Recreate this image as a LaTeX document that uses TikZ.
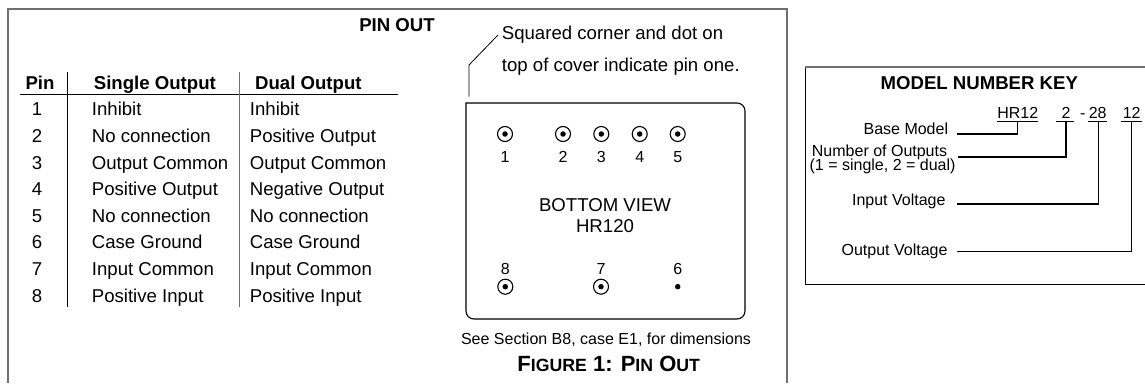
\documentclass[tikz,border=0pt]{standalone}
\usepackage{fontspec}
\setmainfont{Liberation Sans}
\usetikzlibrary{positioning}
\definecolor{framegray}{HTML}{707070}
\tikzset{
    mytext/.style = {inner sep=0pt, text height=13pt, text depth=0pt, text=black, font=\fontsize{18.6}{20}\selectfont},
    mytextl/.style = {mytext, anchor=west},
    mytextb/.style = {mytext, font=\fontsize{18.6}{20}\selectfont\bfseries},
    mycaption/.style = {mytext, font=\fontsize{22}{24}\selectfont\bfseries},
    mysmall/.style = {inner sep=0pt, text height=11.5pt, text depth=0pt, text=black, font=\fontsize{16}{18}\selectfont},
    mysmallr/.style = {mysmall, anchor=east},
    mypin/.style = {circle, draw=black, line width=1.1pt, minimum size=15pt, inner sep=0pt},
    mydot/.style = {circle, fill=black, minimum size=5.5pt, inner sep=0pt},
    edgen/.style = {-,line width=1.1pt,black},
    edgem/.style = {-,line width=0.8pt,black},
    edgeg/.style = {-,line width=2pt,framegray}
}

\begin{document}
\begin{tikzpicture}[x=1pt,y=-1pt]
  \useasboundingbox (0,0) rectangle (1145,383);
  % outer frame
  \coordinate (fa) at (7.7,383);
  \coordinate (fb) at (7.7,9);
  \coordinate (fc) at (787,9);
  \coordinate (fd) at (787,383);
  \draw[edgeg] (fa) -- (fb) -- (fc) -- (fd);
  \node[mytextb] (title) at (397,24.5) {PIN OUT};
  % pin table
  \node[mytextb] (hpin) at (40,83) {Pin};
  \node[mytextb, anchor=west] (hsingle) at (93.7,83) {Single Output};
  \node[mytextb, anchor=west] (hdual) at (255,83) {Dual Output};
  \coordinate (ra) at (20,94.3);
  \coordinate (rb) at (398,94.3);
  \coordinate (va) at (67.3,72);
  \coordinate (vb) at (67.3,307);
  \coordinate (vc) at (239.3,72);
  \coordinate (vd) at (239.3,307);
  \draw[edgem] (ra) -- (rb);
  \draw[edgem] (va) -- (vb);
  \draw[edgem,framegray] (vc) -- (vd);
  \foreach \n/\y/\s/\d in {1/108.7/Inhibit/Inhibit,
      2/135.7/No connection/Positive Output,
      3/162.7/Output Common/Output Common,
      4/188.7/Positive Output/Negative Output,
      5/215.7/No connection/No connection,
      6/242.3/Case Ground/Case Ground,
      7/269/Input Common/Input Common,
      8/295.7/Positive Input/Positive Input} {
    \node[mytext] (n\n) at (37,\y) {\n};
    \node[mytextl] (s\n) at (91.7,\y) {\s};
    \node[mytextl] (d\n) at (249.7,\y) {\d};
  }
  % callout
  \node[mytextl] (noteone) at (501.7,32.7) {Squared corner and dot on};
  \node[mytextl] (notetwo) at (501.7,65) {top of cover indicate pin one.};
  \coordinate (ca) at (498,35);
  \coordinate (cb) at (469,65);
  \coordinate (cc) at (469,96.7);
  \draw[edgem] (ca) -- (cb) -- (cc);
  % case outline
  \coordinate (ba) at (466,103);
  \coordinate (bb) at (745,103);
  \coordinate (bc) at (745,319);
  \coordinate (bd) at (466,319);
  \draw[edgen,rounded corners=8pt,line cap=rect] (ba) -- (bb) -- (bc) -- (bd) -- (ba);
  % pins
  \foreach \n/\x in {1/505,2/563,3/601.3,4/639.7,5/677.7} {
    \node[mypin] (p\n) at (\x,134) {};
    \node[mydot] (q\n) at (p\n) {};
    \node[mysmall] (l\n) at (\x,156.7) {\n};
  }
  \foreach \n/\x in {8/505.3,7/601} {
    \node[mypin] (p\n) at (\x,286.7) {};
    \node[mydot] (q\n) at (p\n) {};
    \node[mysmall] (l\n) at (\x,269) {\n};
  }
  \node[mydot] (q6) at (677.7,286.7) {};
  \node[mysmall] (l6) at (677.7,269) {6};
  \node[mytext] (bview) at (605,205) {BOTTOM VIEW};
  \node[mytext] (hrname) at (605,226) {HR120};
  \node[mysmall] (seesec) at (606,339) {See Section B8, case E1, for dimensions};
  \node[mycaption] (figcap) at (608.7,364.5) {F{\fontsize{17.7}{20}\selectfont IGURE} 1: P{\fontsize{17.7}{20}\selectfont IN} O{\fontsize{17.7}{20}\selectfont UT}};
  % model number key
  \coordinate (ka) at (805,284);
  \coordinate (kb) at (805,67);
  \coordinate (kc) at (1145,67);
  \coordinate (kd) at (1145,284);
  \draw[edgem] (ka) -- (kb);
  \draw[edgem] (ka) -- (kd);
  \draw[edgem,framegray,line width=1.5pt] (kb) -- (kc);
  \node[mytextb] (keytitle) at (979.3,83.3) {MODEL NUMBER KEY};
  \node[mysmall] (khr) at (1017.7,113) {HR12};
  \node[mysmall] (kout) at (1066,113) {2};
  \node[mysmall] (kdash) at (1082.7,113) {-};
  \node[mysmall] (kin) at (1097.7,113) {28};
  \node[mysmall] (kv) at (1131.7,113) {12};
  \coordinate (ua) at (996.7,121.7);
  \coordinate (ub) at (1038.3,121.7);
  \coordinate (uc) at (1056,121.7);
  \coordinate (ud) at (1074.3,121.7);
  \coordinate (ue) at (1088.3,121.7);
  \coordinate (uf) at (1106.7,121.7);
  \coordinate (ug) at (1121,121.7);
  \coordinate (uh) at (1141.7,121.7);
  \draw[edgen] (ua) -- (ub);
  \draw[edgen] (uc) -- (ud);
  \draw[edgen] (ue) -- (uf);
  \draw[edgen] (ug) -- (uh);
  \node[mysmallr] (lbase) at (948.3,129) {Base Model};
  \node[mysmallr] (lnum) at (947.3,151) {Number of Outputs};
  \node[mysmallr] (lnumb) at (955.7,165) {(1 = single, 2 = dual)};
  \node[mysmallr] (linput) at (945.7,200) {Input Voltage};
  \node[mysmallr] (loutput) at (947.7,249.3) {Output Voltage};
  \coordinate (ta) at (956.7,134);
  \coordinate (tb) at (1017.3,121.7);
  \coordinate (tc) at (958.3,157);
  \coordinate (td) at (1066,121.7);
  \coordinate (te) at (957,204);
  \coordinate (tf) at (1098.3,121.7);
  \coordinate (tg) at (957,251.7);
  \coordinate (th) at (1131.7,121.7);
  \draw[edgen] (ta) -| (tb);
  \draw[edgen] (tc) -| (td);
  \draw[edgen] (te) -| (tf);
  \draw[edgen] (tg) -| (th);
\end{tikzpicture}
\end{document}
